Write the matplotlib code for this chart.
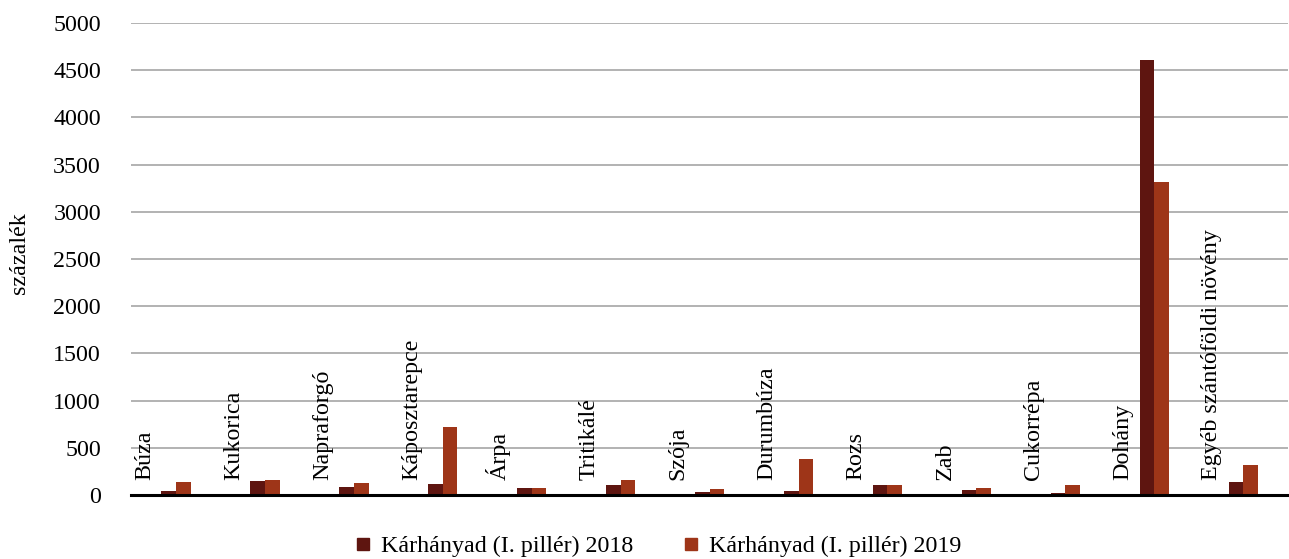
import numpy as np
import matplotlib.pyplot as plt
from matplotlib.lines import Line2D

plt.rcParams['font.family'] = ['Liberation Serif', 'DejaVu Serif']

categories = ["Búza", "Kukorica", "Napraforgó", "Káposztarepce", "Árpa",
              "Tritikálé", "Szója", "Durumbúza", "Rozs", "Zab", "Cukorrépa",
              "Dohány", "Egyéb szántóföldi növény"]
vals_2018 = [40, 148, 88, 116, 70, 106, 32, 39, 106, 53, 18, 4603, 138]
vals_2019 = [140, 162, 127, 720, 78, 159, 64, 378, 106, 74, 106, 3315, 318]
series_names = ["Kárhányad (I. pillér) 2018", "Kárhányad (I. pillér) 2019"]
colors = ["#5E1510", "#9E3518"]

fig = plt.figure(figsize=(12.89, 5.59), dpi=100)
ax = fig.add_axes([0.102, 0.1145, 0.897, 0.8445])

x = np.arange(len(categories))
w = 0.165
ax.bar(x - w / 2, vals_2018, w, color=colors[0], zorder=3)
ax.bar(x + w / 2, vals_2019, w, color=colors[1], zorder=3)

ax.set_xlim(-0.5, len(categories) - 0.5)
ax.set_ylim(0, 5000)
ax.set_yticks(np.arange(0, 5001, 500))
ax.yaxis.grid(True, color="#A6A6A6", linewidth=1.2, zorder=0)
ax.set_axisbelow(True)
ax.tick_params(axis="y", length=0, labelsize=17.3, pad=22)
ax.set_xticks([])
for s in ["left", "right", "top"]:
    ax.spines[s].set_visible(False)
ax.spines["bottom"].set_linewidth(2.2)
ax.spines["bottom"].set_color("black")
ax.spines["bottom"].set_zorder(4)

# category labels drawn inside the plot
for i, c in enumerate(categories):
    ax.text(i - 0.292, 155, c, rotation=90, rotation_mode="anchor",
            ha="left", va="baseline", fontsize=17.3, zorder=5)

fig.text(0.015, 0.548, "százalék", rotation=90, ha="center", va="center",
         fontsize=17.3)

handles = [Line2D([0], [0], marker="s", linestyle="", markersize=9,
                  markerfacecolor=col, markeredgecolor=col) for col in colors]
fig.legend(handles, series_names, loc="center", bbox_to_anchor=(0.509, 0.023),
           ncol=2, frameon=False, fontsize=17.3, handletextpad=0.25,
           columnspacing=1.9, handlelength=1.0)

fig.savefig("out.png", dpi=100)
